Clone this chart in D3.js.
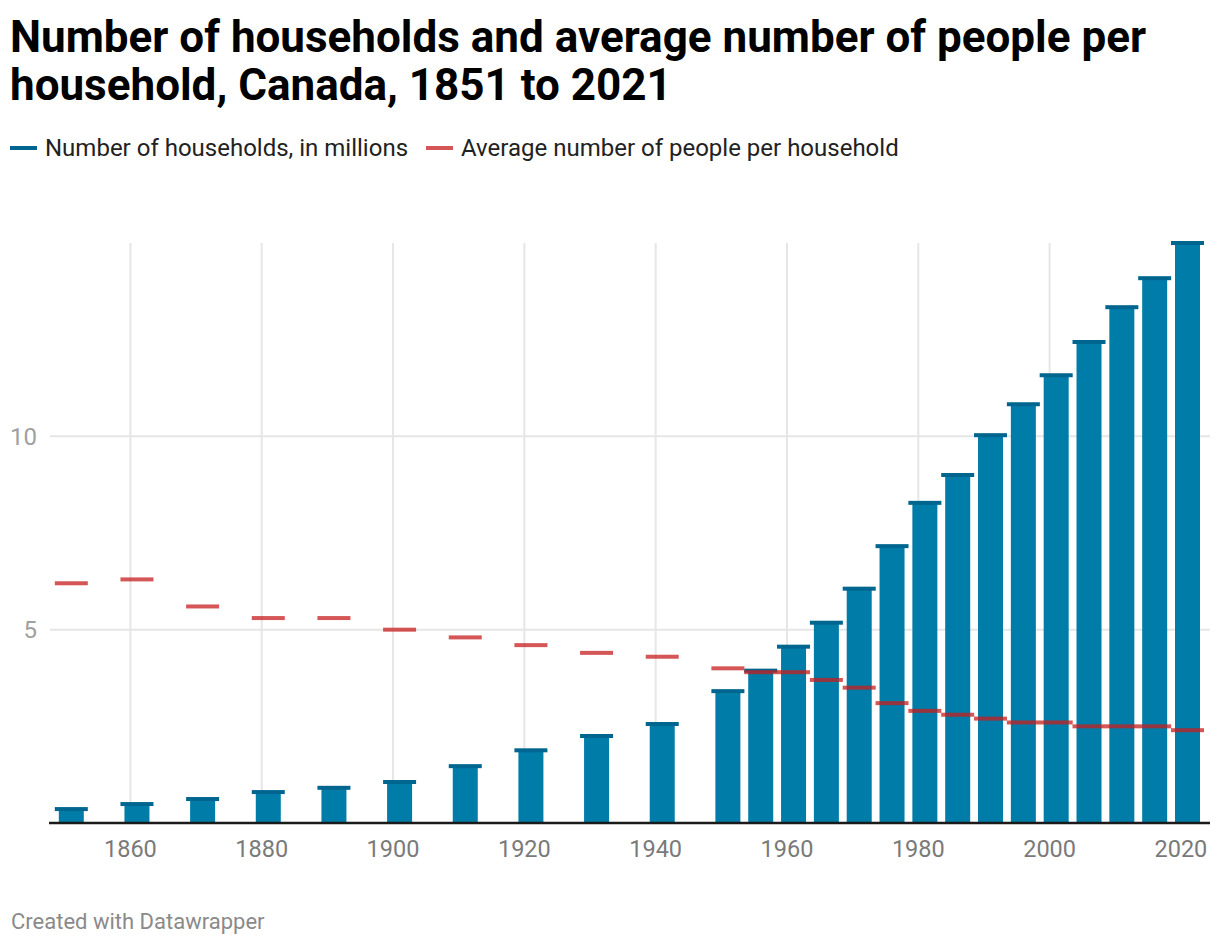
<!DOCTYPE html>
<html>
<head>
<meta charset="utf-8">
<script src="https://cdn.jsdelivr.net/npm/d3@7"></script>
<style>
  html, body { margin: 0; padding: 0; background: #fff; }
  body { width: 1220px; height: 946px; overflow: hidden; font-family: Roboto, "Noto Sans", sans-serif; }
  svg text { font-family: Roboto, "Noto Sans", sans-serif; }
</style>
</head>
<body>
<svg id="chart" width="1220" height="946"></svg>
<script>
// ---- data ----
const years = [1851, 1861, 1871, 1881, 1891, 1901, 1911, 1921, 1931, 1941, 1951, 1956, 1961, 1966, 1971, 1976, 1981, 1986, 1991, 1996, 2001, 2006, 2011, 2016, 2021];
const households = [0.36, 0.49, 0.62, 0.80, 0.91, 1.06, 1.47, 1.88, 2.25, 2.56, 3.41, 3.94, 4.56, 5.18, 6.06, 7.16, 8.28, 9.00, 10.03, 10.83, 11.58, 12.44, 13.34, 14.09, 15.00];
const avgPeople = [6.2, 6.3, 5.6, 5.3, 5.3, 5.0, 4.8, 4.6, 4.4, 4.3, 4.0, 3.9, 3.9, 3.7, 3.5, 3.1, 2.9, 2.8, 2.7, 2.6, 2.6, 2.5, 2.5, 2.5, 2.4];
const xTicks = [1860, 1880, 1900, 1920, 1940, 1960, 1980, 2000, 2020];
const yTicks = [5, 10];
const seriesNames = ["Number of households, in millions", "Average number of people per household"];
const titleLines = ["Number of households and average number of people per", "household, Canada, 1851 to 2021"];
const footer = "Created with Datawrapper";

// ---- layout ----
const svg = d3.select("#chart");
const blue = "#007ca8", blueCap = "#00668f", red = "#c71e1d";

const x = d3.scaleLinear().domain([1851, 2021]).range([71.3, 1187.5]);
const y = d3.scaleLinear().domain([0, 15]).range([823, 243]);
const barW = 25, capW = 33, capH = 4;

// title
svg.append("g").selectAll("text").data(titleLines).join("text")
  .attr("x", 10).attr("y", (d, i) => 52 + i * 48)
  .attr("font-size", 44).attr("font-weight", 700).attr("fill", "#000")
  .text(d => d);

// legend
const legend = svg.append("g").attr("transform", "translate(0,148)");
const legColors = [blueCap, red];
const legOpac = [1, 0.75];
let lx = 10;
seriesNames.forEach((name, i) => {
  const g = legend.append("g").attr("transform", `translate(${lx},0)`);
  g.append("rect").attr("x", 0).attr("y", -2).attr("width", 27).attr("height", 4)
    .attr("fill", legColors[i]).attr("opacity", legOpac[i]);
  const t = g.append("text").attr("x", 35).attr("y", 0).attr("dy", "0.35em")
    .attr("font-size", 24).attr("fill", "#222").text(name);
  lx += 35 + t.node().getComputedTextLength() + 18;
});

// gridlines
svg.append("g").selectAll("line.v").data(xTicks).join("line")
  .attr("x1", d => x(d)).attr("x2", d => x(d))
  .attr("y1", y(15)).attr("y2", y(0))
  .attr("stroke", "#e6e6e6").attr("stroke-width", 2);
svg.append("g").selectAll("line.h").data(yTicks).join("line")
  .attr("x1", 50).attr("x2", 1210)
  .attr("y1", d => y(d)).attr("y2", d => y(d))
  .attr("stroke", "#e6e6e6").attr("stroke-width", 2);

// y labels
svg.append("g").selectAll("text").data(yTicks).join("text")
  .attr("x", 37).attr("y", d => y(d)).attr("dy", "0.35em")
  .attr("text-anchor", "end").attr("font-size", 24).attr("fill", "#a0a0a0")
  .text(d => d);

// bars
const data = years.map((yr, i) => ({ yr, h: households[i], a: avgPeople[i] }));
svg.append("g").selectAll("rect").data(data).join("rect")
  .attr("x", d => x(d.yr) - barW / 2).attr("width", barW)
  .attr("y", d => y(d.h)).attr("height", d => y(0) - y(d.h))
  .attr("fill", blue);
svg.append("g").selectAll("rect").data(data).join("rect")
  .attr("x", d => x(d.yr) - capW / 2).attr("width", capW)
  .attr("y", d => y(d.h) - capH / 2).attr("height", capH)
  .attr("fill", blueCap);

// baseline
svg.append("line").attr("x1", 49).attr("x2", 1210).attr("y1", y(0)).attr("y2", y(0))
  .attr("stroke", "#1a1a1a").attr("stroke-width", 2.5);

// red dashes
svg.append("g").selectAll("rect").data(data).join("rect")
  .attr("x", d => x(d.yr) - capW / 2).attr("width", capW)
  .attr("y", d => y(d.a) - capH / 2).attr("height", capH)
  .attr("fill", red).attr("opacity", 0.75);

// x labels
svg.append("g").selectAll("text").data(xTicks).join("text")
  .attr("x", d => x(d)).attr("y", 857)
  .attr("text-anchor", "middle").attr("font-size", 23.5).attr("fill", "#7a7a7a")
  .text(d => d);

// footer
svg.append("text").attr("x", 11).attr("y", 929).attr("font-size", 22).attr("fill", "#8a8a8a").text(footer);
</script>
</body>
</html>
